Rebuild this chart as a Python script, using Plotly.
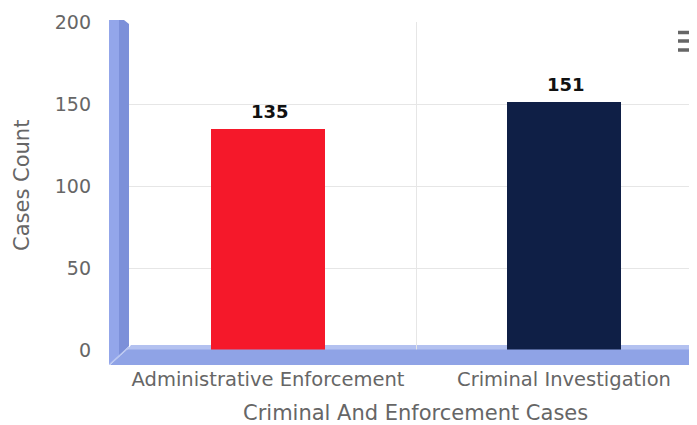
import plotly.graph_objects as go

categories = ["Administrative Enforcement", "Criminal Investigation"]
values = [135, 151]
bar_colors = ["#F5182A", "#0F1F46"]
y_ticks = [0, 50, 100, 150, 200]
x_title = "Criminal And Enforcement Cases"
y_title = "Cases Count"

W, H = 697, 425
OFF = 8  # page body margin
L, R, T, B = 102, 0, 14, 68
FONT = "DejaVu Sans"
pw, ph = W - L - R, H - T - B


def px(x):  # page pixel -> paper x
    return (x - OFF - L) / pw


def py(y):  # page pixel -> paper y
    return (H - B - (y - OFF)) / ph


fig = go.Figure()
fig.add_trace(go.Bar(
    x=categories, y=values, marker=dict(color=bar_colors, line=dict(width=0)),
    width=0.385, hoverinfo="x+y",
))

for c, v in zip(categories, values):
    fig.add_annotation(x=c, y=v, text=f"<b>{v}</b>", showarrow=False,
                       yanchor="bottom", yshift=5, xshift=2,
                       font=dict(family=FONT, size=18, color="#111"))

fig.add_annotation(xref="paper", yref="paper", x=px(415.5), y=py(413),
                   text=x_title, showarrow=False, xanchor="center", yanchor="middle",
                   font=dict(family=FONT, size=21, color="#666666"))
fig.add_annotation(xref="paper", yref="paper", x=px(22), y=py(186),
                   text=y_title, textangle=-90, showarrow=False,
                   xanchor="center", yanchor="middle",
                   font=dict(family=FONT, size=21, color="#666666"))

shapes = []
# floor: light top strip below the grid, main band above grid
shapes.append(dict(type="path", xref="paper", yref="paper", layer="below",
                   path=f"M{px(127)},{py(350)} L{px(131)},{py(345)} L{px(705)},{py(345)} L{px(705)},{py(350)} Z",
                   fillcolor="#B3C1F0", line=dict(width=0)))
shapes.append(dict(type="path", xref="paper", yref="paper", layer="above",
                   path=f"M{px(110)},{py(365)} L{px(127)},{py(349.6)} L{px(705)},{py(349.6)} L{px(705)},{py(365)} Z",
                   fillcolor="#8FA3E6", line=dict(width=0)))
# left wall
shapes.append(dict(type="path", xref="paper", yref="paper", layer="above",
                   path=f"M{px(109)},{py(20)} L{px(119)},{py(20)} L{px(119)},{py(356)} L{px(109)},{py(365)} Z",
                   fillcolor="#93A6EA", line=dict(width=0)))
shapes.append(dict(type="path", xref="paper", yref="paper", layer="above",
                   path=f"M{px(119)},{py(20)} L{px(124)},{py(20)} L{px(129)},{py(24)} L{px(129)},{py(346)} L{px(119)},{py(356)} Z",
                   fillcolor="#7C90D9", line=dict(width=0)))
shapes.append(dict(type="line", xref="paper", yref="paper", layer="above",
                   x0=px(110), y0=py(364), x1=px(129), y1=py(347),
                   line=dict(color="#B9C6F1", width=1.5)))
# menu icon
for yy in (32.5, 41, 50):
    shapes.append(dict(type="line", xref="paper", yref="paper", layer="above",
                       x0=px(678), x1=px(698), y0=py(yy), y1=py(yy),
                       line=dict(color="#666666", width=3.5)))

fig.update_layout(
    width=W, height=H,
    margin=dict(l=L, r=R, t=T, b=B, autoexpand=False),
    paper_bgcolor="white", plot_bgcolor="rgba(0,0,0,0)",
    showlegend=False,
    font=dict(family=FONT, color="#666666"),
    shapes=shapes,
    bargap=0,
    xaxis=dict(
        type="category",
        range=[-0.5 - 10 / 296, -0.5 + (705 - 120) / 296],
        tickson="boundaries", showgrid=True, gridcolor="#E6E6E6", gridwidth=1,
        ticks="", showline=False, zeroline=False,
        tickfont=dict(family=FONT, size=19.5, color="#666666"),
        automargin=False, fixedrange=True,
    ),
    yaxis=dict(
        range=[-15 / 1.64, 200],
        tickvals=y_ticks, ticktext=[str(t) for t in y_ticks],
        showgrid=True, gridcolor="#E6E6E6", gridwidth=1, zeroline=False,
        ticks="", showline=False, ticklabelstandoff=18,
        tickfont=dict(family=FONT, size=19, color="#666666"),
        automargin=False, fixedrange=True,
    ),
)

fig.write_html("out.html", config={"displayModeBar": False})
